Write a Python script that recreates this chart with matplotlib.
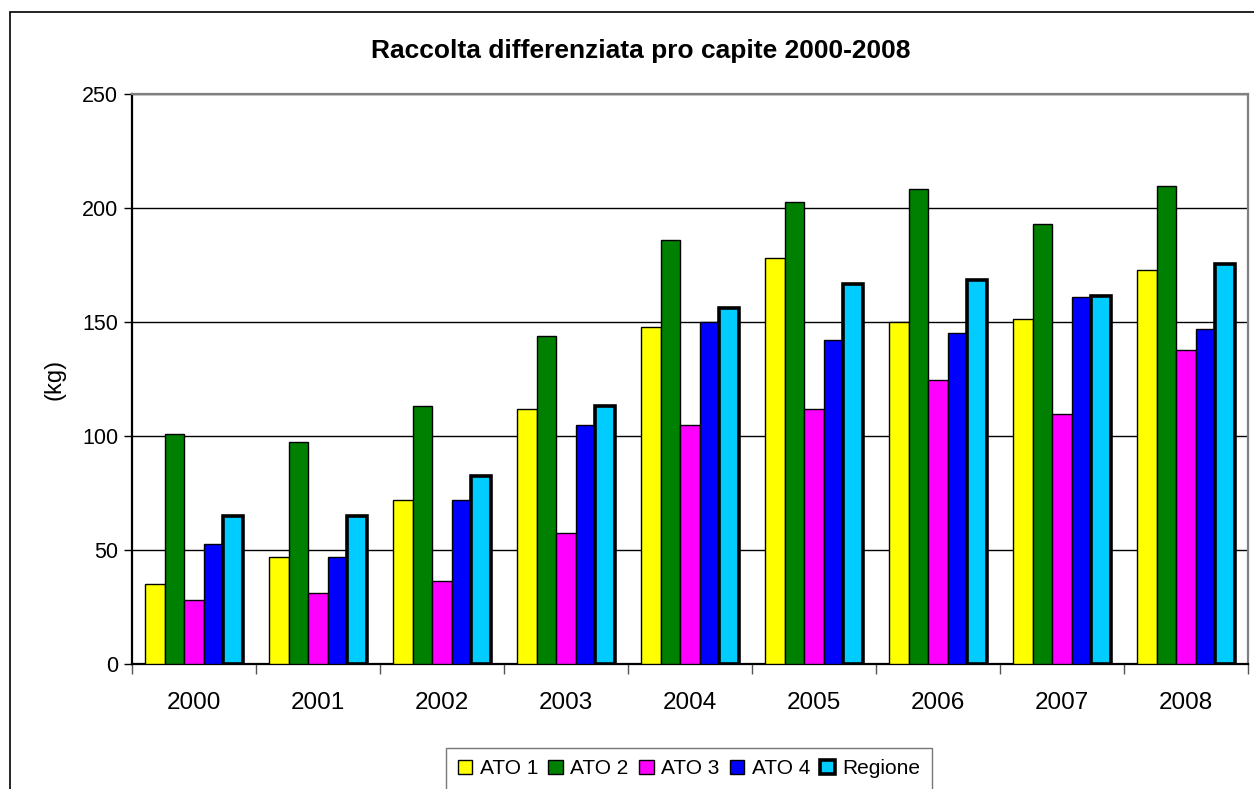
import matplotlib
matplotlib.use("Agg")
import matplotlib.pyplot as plt
import numpy as np
from matplotlib.patches import Rectangle

plt.rcParams['font.family'] = ['Liberation Sans', 'DejaVu Sans']

years = ['2000', '2001', '2002', '2003', '2004', '2005', '2006', '2007', '2008']
series_names = ['ATO 1', 'ATO 2', 'ATO 3', 'ATO 4', 'Regione']
ato1 = [35, 47, 72, 112, 148, 178, 150, 151.5, 173]
ato2 = [101, 97.5, 113, 144, 186, 202.5, 208.5, 193, 209.5]
ato3 = [28, 31, 36.5, 57.5, 105, 112, 124.5, 109.5, 137.5]
ato4 = [52.5, 47, 72, 105, 150, 142, 145, 161, 147]
regione = [65, 65, 82.5, 113, 156, 166.5, 168.5, 161.5, 175.5]
colors = ['#FFFF00', '#008000', '#FF00FF', '#0000FF', '#00CCFF']
edge_widths = [1.0, 1.0, 1.0, 1.0, 2.6]

fig = plt.figure(figsize=(12.54, 7.89), dpi=100)
ax = fig.add_axes([132/1254, 1-664/789, (1248-132)/1254, (664-94)/789])

# outer chart frame
fig.patches.append(Rectangle((10/1254, -0.2), 1.2, 1.2 - 12/789,
                             transform=fig.transFigure, fill=False,
                             edgecolor='black', linewidth=1.2, zorder=0))

x = np.arange(len(years))
bw = 0.157
data = [ato1, ato2, ato3, ato4, regione]
for i, (vals, c, lw, name) in enumerate(zip(data, colors, edge_widths, series_names)):
    ax.bar(x + (i - 2) * bw, vals, width=bw, color=c, edgecolor='black',
           linewidth=lw, label=name, zorder=3)

ax.set_xlim(-0.5, len(years) - 0.5)
ax.set_ylim(0, 250)
ax.set_yticks(np.arange(0, 251, 50))
ax.yaxis.grid(True, color='black', linewidth=1.0, zorder=0)
ax.set_axisbelow(True)

ax.set_xticks(x)
ax.set_xticklabels(years, fontsize=17.5)
ax.tick_params(axis='x', which='major', length=0, pad=20)
ax.set_xticks(np.arange(-0.5, len(years), 1), minor=True)
ax.tick_params(axis='x', which='minor', length=7, width=1, color='#555555', direction='out')
ax.tick_params(axis='y', labelsize=15.5, length=6, width=1, direction='out', pad=4)

for s in ['top', 'right']:
    ax.spines[s].set_color('#808080')
    ax.spines[s].set_linewidth(1.6)
ax.spines['left'].set_linewidth(1.6)
ax.spines['bottom'].set_linewidth(1.6)

ax.set_ylabel('(kg)', fontsize=17, labelpad=12)

fig.text(641/1254, 1-51/789, 'Raccolta differenziata pro capite 2000-2008',
         ha='center', va='center', fontsize=19, fontweight='bold')

leg = fig.legend(loc='upper center', bbox_to_anchor=(689/1254, 1-748/789), ncol=5,
                 fontsize=15, frameon=True, fancybox=False, edgecolor='#555555',
                 handlelength=0.7, handleheight=0.7, handletextpad=0.35,
                 columnspacing=0.5, borderpad=0.55, borderaxespad=0)
leg.get_frame().set_linewidth(1.0)

fig.savefig('out.png', dpi=100)
